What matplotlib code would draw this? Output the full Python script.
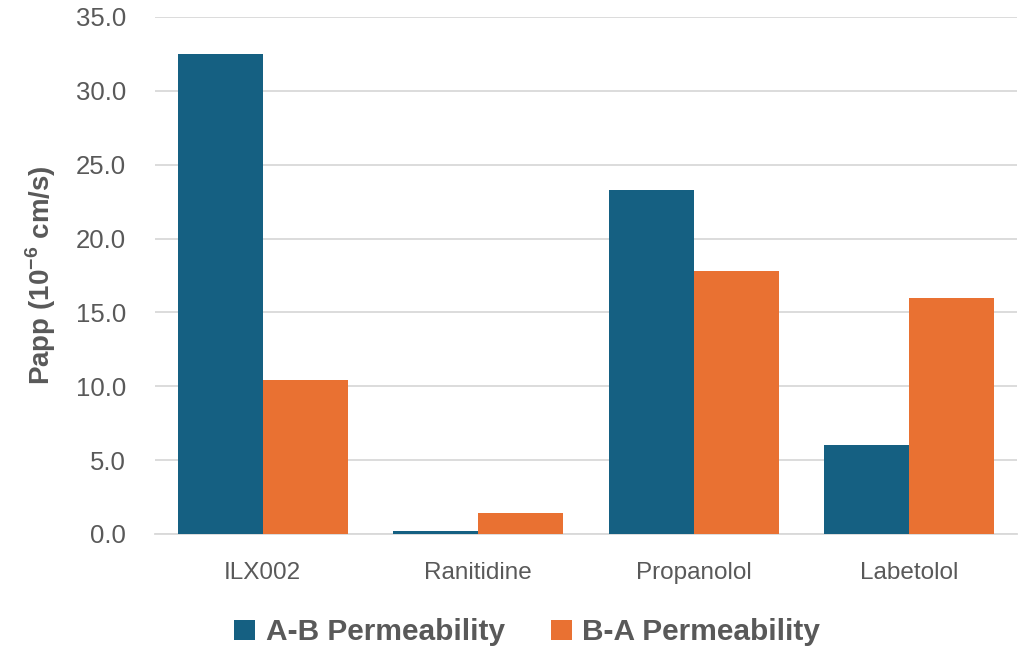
import numpy as np
import matplotlib
matplotlib.use("Agg")
import matplotlib.pyplot as plt
from matplotlib.patches import Patch

# Apparent permeability of each compound in both transport directions
compounds = ["ILX002", "Ranitidine", "Propanolol", "Labetolol"]
ab_perm = [32.5, 0.2, 23.3, 6.0]
ba_perm = [10.4, 1.4, 17.8, 16.0]
series_names = ["A-B Permeability", "B-A Permeability"]
y_ticks = [0, 5, 10, 15, 20, 25, 30, 35]

BLUE = "#156082"
ORANGE = "#E97132"
TEXT = "#595959"
GRID = "#D9D9D9"

plt.rcParams["font.family"] = ["Liberation Sans", "DejaVu Sans"]
plt.rcParams["mathtext.fontset"] = "custom"
plt.rcParams["mathtext.rm"] = "Liberation Sans"
plt.rcParams["mathtext.bf"] = "Liberation Sans:bold"

fig = plt.figure(figsize=(10.24, 6.5), dpi=100)
ax = fig.add_axes([0.1514, 0.1785, 0.8418, 0.7955])

x = np.arange(len(compounds))
w = 0.395
ax.bar(x - w / 2, ab_perm, width=w, color=BLUE, zorder=3)
ax.bar(x + w / 2, ba_perm, width=w, color=ORANGE, zorder=3)

ax.set_xlim(-0.5, len(compounds) - 0.5)
ax.set_ylim(0, 35)
ax.set_yticks(y_ticks)
ax.set_yticklabels([f"{v:.1f}" for v in y_ticks])
ax.set_xticks(x)
ax.set_xticklabels(compounds)

ax.yaxis.grid(True, color=GRID, linewidth=1.3, zorder=0)
ax.set_axisbelow(True)
for side in ["top", "right", "left"]:
    ax.spines[side].set_visible(False)
ax.spines["bottom"].set_color(GRID)
ax.spines["bottom"].set_linewidth(1.3)

ax.tick_params(axis="y", length=0, pad=21, labelsize=18.5, labelcolor=TEXT)
ax.tick_params(axis="x", length=0, pad=20, labelsize=17.5, labelcolor=TEXT)

ax.set_ylabel(r"Papp (10$^{\mathbf{-6}}$ cm/s)", fontsize=20, fontweight="bold",
              color=TEXT, labelpad=13)

handles = [Patch(facecolor=BLUE), Patch(facecolor=ORANGE)]
fig.legend(handles, series_names, loc="center", bbox_to_anchor=(0.515, 0.027),
           ncol=2, frameon=False, prop={"weight": "bold", "size": 21.5},
           labelcolor=TEXT, handlelength=0.7, handleheight=0.7,
           handletextpad=0.35, columnspacing=1.55)

fig.savefig("out.png", dpi=100)
